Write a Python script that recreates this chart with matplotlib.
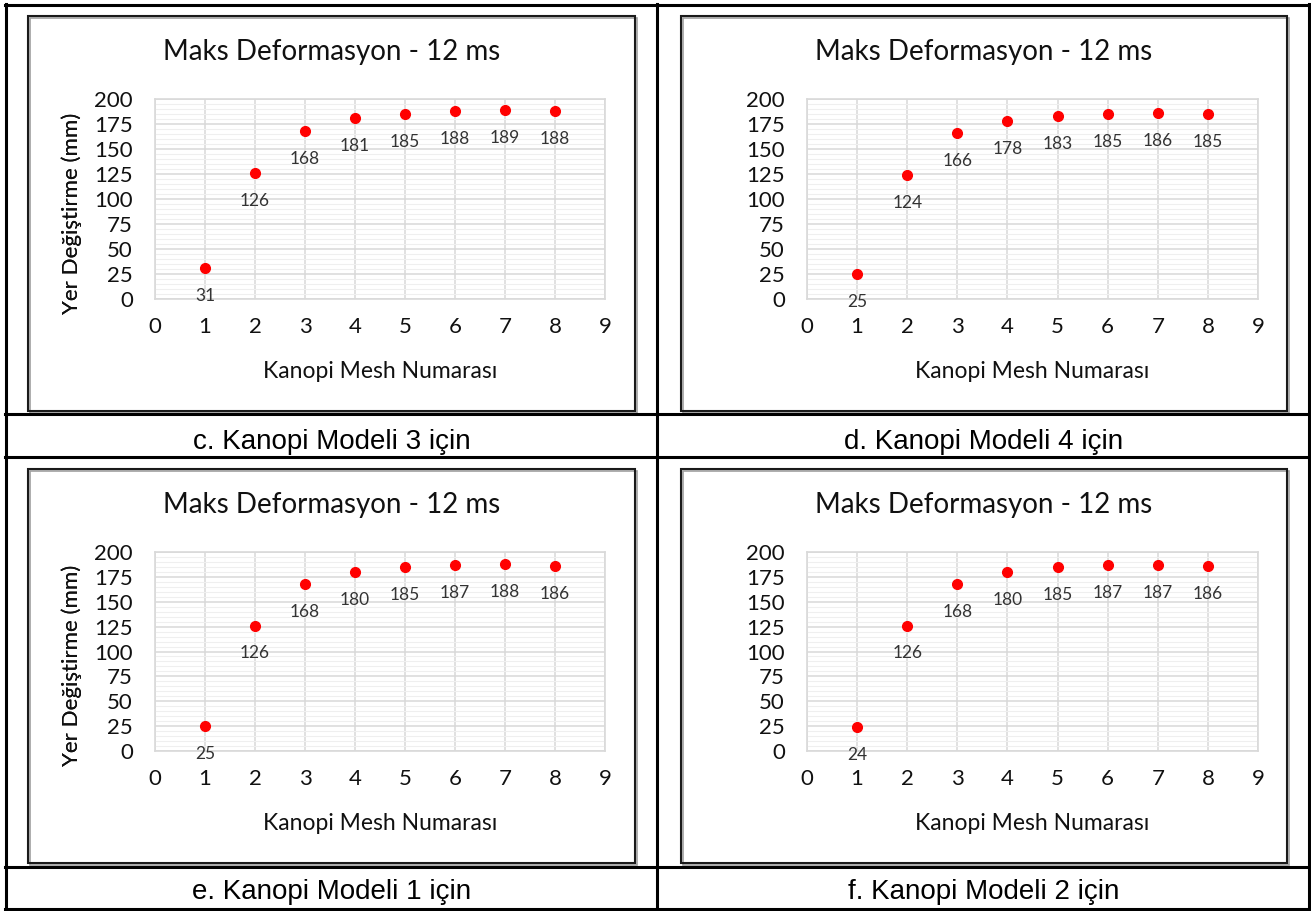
import matplotlib
matplotlib.use('Agg')
import matplotlib.pyplot as plt
from matplotlib.patches import Rectangle
from matplotlib.lines import Line2D
import numpy as np

W, H = 1311, 911

mesh = [1, 2, 3, 4, 5, 6, 7, 8]
model3 = [31, 126, 168, 181, 185, 188, 189, 188]
model4 = [25, 124, 166, 178, 183, 185, 186, 185]
model1 = [25, 126, 168, 180, 185, 187, 188, 186]
model2 = [24, 126, 168, 180, 185, 187, 187, 186]
captions = ['c. Kanopi Modeli 3 için', 'd. Kanopi Modeli 4 için',
            'e. Kanopi Modeli 1 için', 'f. Kanopi Modeli 2 için']
title = 'Maks Deformasyon - 12 ms'
xlabel = 'Kanopi Mesh Numarası'
ylabel = 'Yer Değiştirme (mm)'

chart_font = ['Lato', 'DejaVu Sans']
cap_font = ['Liberation Sans', 'DejaVu Sans']

fig = plt.figure(figsize=(W / 100, H / 100), dpi=100)


def fx(px):
    return px / W


def fy(py):
    return 1 - py / H


# table lines
for y in [5, 414, 457, 867, 909]:
    fig.add_artist(Line2D([fx(5), fx(1310)], [fy(y), fy(y)], color='black', lw=2.2))
for x in [6, 657, 1309]:
    fig.add_artist(Line2D([fx(x), fx(x)], [fy(4), fy(910)], color='black', lw=2.2))

# (box left, box right, box top, box bottom, plot left, plot right, plot top, plot bottom)
panels = [
    (28, 635, 16, 411, 155, 605, 99, 299),
    (681, 1287, 16, 411, 807, 1258, 99, 299),
    (28, 635, 469, 863, 155, 605, 552, 751),
    (681, 1287, 469, 863, 807, 1258, 552, 751),
]
series = [model3, model4, model1, model2]
cap_base = [449, 449, 899, 899]

for i, (bl, br, bt, bb, pl, pr, pt, pb) in enumerate(panels):
    # chart frame
    fig.add_artist(Rectangle((fx(bl + 1.5), fy(bb + 1.5)), fx(br - bl), (bb - bt) / H,
                             fill=False, ec='#a0a0a0', lw=1.2))
    fig.add_artist(Rectangle((fx(bl), fy(bb)), fx(br - bl), (bb - bt) / H,
                             fill=False, ec='#1a1a1a', lw=1.5))

    ax = fig.add_axes([fx(pl), fy(pb), fx(pr - pl), (pb - pt) / H])
    vals = series[i]
    ax.plot(mesh, vals, 'o', color='#ff0000', markersize=7, zorder=3)
    for x, v in zip(mesh, vals):
        ax.annotate(str(v), (x, v), xytext=(0, -20), textcoords='offset points',
                    ha='center', va='center', fontsize=12.5, color='#333333',
                    family=chart_font, zorder=4, annotation_clip=False)

    ax.set_xlim(0, 9)
    ax.set_ylim(0, 200)
    ax.set_xticks(range(0, 10))
    ax.set_yticks(range(0, 201, 25))
    ax.set_yticks(range(0, 201, 5), minor=True)
    ax.grid(True, which='major', color='#d9d9d9', lw=1.1)
    ax.grid(True, which='minor', axis='y', color='#efefef', lw=0.8)
    ax.set_axisbelow(True)
    for s in ax.spines.values():
        s.set_color('#d9d9d9')
        s.set_linewidth(1.2)
    ax.tick_params(which='both', length=0)
    ax.tick_params(axis='y', pad=16, labelsize=16, labelcolor='#111111')
    ax.tick_params(axis='x', pad=13, labelsize=16, labelcolor='#111111')
    for lab in ax.get_xticklabels() + ax.get_yticklabels():
        lab.set_family(chart_font)

    ax.set_xlabel(xlabel, fontsize=16.5, family=chart_font, color='#111111')
    ax.xaxis.set_label_coords(0.5, -72 / (pb - pt))
    ax.xaxis.label.set_va('center')
    ax.set_ylabel(ylabel, fontsize=16, family=chart_font, color='#111111')
    ax.yaxis.set_label_coords((72 - pl) / (pr - pl), 86 / (pb - pt))
    ax.yaxis.label.set_va('center')

    fig.text(fx((bl + br) / 2), fy(bt + 44), title, ha='center', va='baseline',
             fontsize=20, family=chart_font, color='#111111')
    fig.text(fx((bl + br) / 2), fy(cap_base[i]), captions[i], ha='center',
             va='baseline', fontsize=20, family=cap_font, color='black')

fig.savefig('out.png', dpi=100, facecolor='white')
